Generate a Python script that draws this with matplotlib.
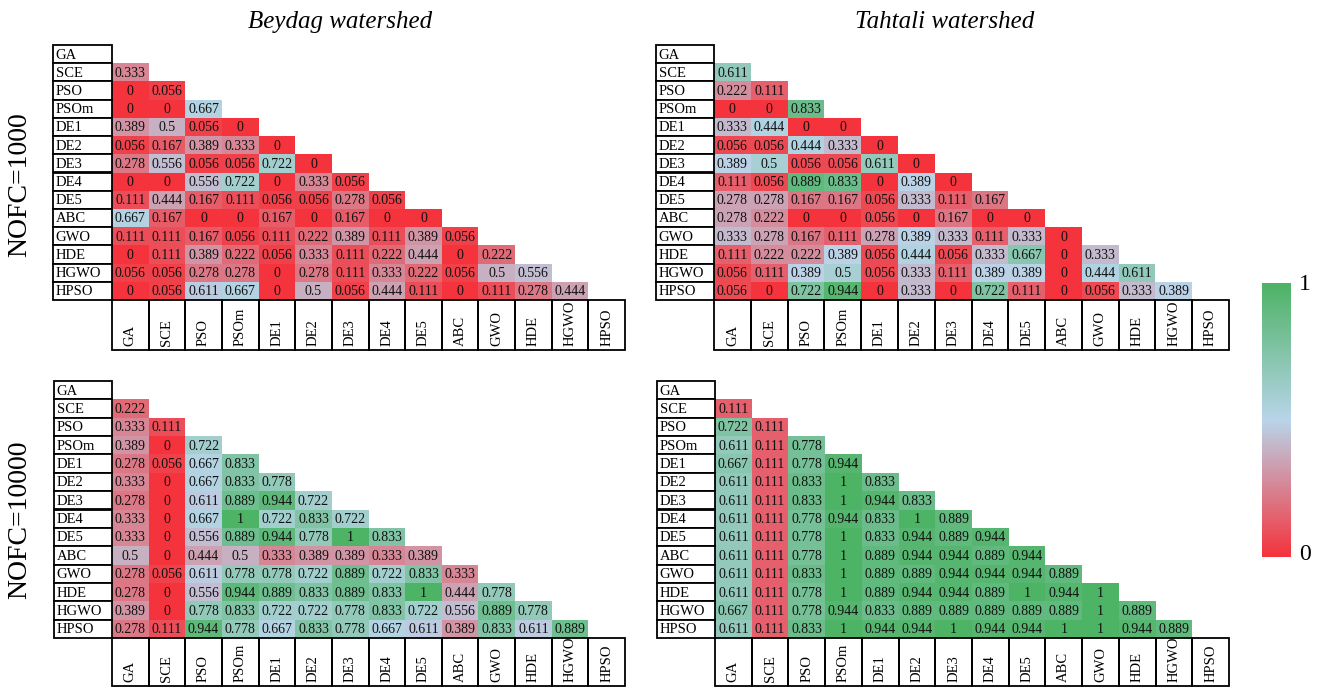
import numpy as np
import matplotlib
matplotlib.use("Agg")
import matplotlib.pyplot as plt
from matplotlib.colors import LinearSegmentedColormap, TwoSlopeNorm
from matplotlib.patches import Rectangle

plt.rcParams["font.family"] = ["Liberation Serif", "DejaVu Serif"]

algos = ["GA", "SCE", "PSO", "PSOm", "DE1", "DE2", "DE3", "DE4", "DE5",
         "ABC", "GWO", "HDE", "HGWO", "HPSO"]

# lower-triangle rows (row i holds the values for columns 0..i-1)
beydag_1000 = [
    [],
    [0.333],
    [0, 0.056],
    [0, 0, 0.667],
    [0.389, 0.5, 0.056, 0],
    [0.056, 0.167, 0.389, 0.333, 0],
    [0.278, 0.556, 0.056, 0.056, 0.722, 0],
    [0, 0, 0.556, 0.722, 0, 0.333, 0.056],
    [0.111, 0.444, 0.167, 0.111, 0.056, 0.056, 0.278, 0.056],
    [0.667, 0.167, 0, 0, 0.167, 0, 0.167, 0, 0],
    [0.111, 0.111, 0.167, 0.056, 0.111, 0.222, 0.389, 0.111, 0.389, 0.056],
    [0, 0.111, 0.389, 0.222, 0.056, 0.333, 0.111, 0.222, 0.444, 0, 0.222],
    [0.056, 0.056, 0.278, 0.278, 0, 0.278, 0.111, 0.333, 0.222, 0.056, 0.5, 0.556],
    [0, 0.056, 0.611, 0.667, 0, 0.5, 0.056, 0.444, 0.111, 0, 0.111, 0.278, 0.444],
]
tahtali_1000 = [
    [],
    [0.611],
    [0.222, 0.111],
    [0, 0, 0.833],
    [0.333, 0.444, 0, 0],
    [0.056, 0.056, 0.444, 0.333, 0],
    [0.389, 0.5, 0.056, 0.056, 0.611, 0],
    [0.111, 0.056, 0.889, 0.833, 0, 0.389, 0],
    [0.278, 0.278, 0.167, 0.167, 0.056, 0.333, 0.111, 0.167],
    [0.278, 0.222, 0, 0, 0.056, 0, 0.167, 0, 0],
    [0.333, 0.278, 0.167, 0.111, 0.278, 0.389, 0.333, 0.111, 0.333, 0],
    [0.111, 0.222, 0.222, 0.389, 0.056, 0.444, 0.056, 0.333, 0.667, 0, 0.333],
    [0.056, 0.111, 0.389, 0.5, 0.056, 0.333, 0.111, 0.389, 0.389, 0, 0.444, 0.611],
    [0.056, 0, 0.722, 0.944, 0, 0.333, 0, 0.722, 0.111, 0, 0.056, 0.333, 0.389],
]
beydag_10000 = [
    [],
    [0.222],
    [0.333, 0.111],
    [0.389, 0, 0.722],
    [0.278, 0.056, 0.667, 0.833],
    [0.333, 0, 0.667, 0.833, 0.778],
    [0.278, 0, 0.611, 0.889, 0.944, 0.722],
    [0.333, 0, 0.667, 1, 0.722, 0.833, 0.722],
    [0.333, 0, 0.556, 0.889, 0.944, 0.778, 1, 0.833],
    [0.5, 0, 0.444, 0.5, 0.333, 0.389, 0.389, 0.333, 0.389],
    [0.278, 0.056, 0.611, 0.778, 0.778, 0.722, 0.889, 0.722, 0.833, 0.333],
    [0.278, 0, 0.556, 0.944, 0.889, 0.833, 0.889, 0.833, 1, 0.444, 0.778],
    [0.389, 0, 0.778, 0.833, 0.722, 0.722, 0.778, 0.833, 0.722, 0.556, 0.889, 0.778],
    [0.278, 0.111, 0.944, 0.778, 0.667, 0.833, 0.778, 0.667, 0.611, 0.389, 0.833, 0.611, 0.889],
]
tahtali_10000 = [
    [],
    [0.111],
    [0.722, 0.111],
    [0.611, 0.111, 0.778],
    [0.667, 0.111, 0.778, 0.944],
    [0.611, 0.111, 0.833, 1, 0.833],
    [0.611, 0.111, 0.833, 1, 0.944, 0.833],
    [0.611, 0.111, 0.778, 0.944, 0.833, 1, 0.889],
    [0.611, 0.111, 0.778, 1, 0.833, 0.944, 0.889, 0.944],
    [0.611, 0.111, 0.778, 1, 0.889, 0.944, 0.944, 0.889, 0.944],
    [0.611, 0.111, 0.833, 1, 0.889, 0.889, 0.944, 0.944, 0.944, 0.889],
    [0.611, 0.111, 0.778, 1, 0.889, 0.944, 0.944, 0.889, 1, 0.944, 1],
    [0.667, 0.111, 0.778, 0.944, 0.833, 0.889, 0.889, 0.889, 0.889, 0.889, 1, 0.889],
    [0.611, 0.111, 0.833, 1, 0.944, 0.944, 1, 0.944, 0.944, 1, 1, 0.944, 0.889],
]

cmap = LinearSegmentedColormap.from_list(
    "rbg", ["#F5333C", "#B9D5EA", "#4DB365"])

W, H = 1321, 687
fig = plt.figure(figsize=(W / 100, H / 100), dpi=100)

# (data, left px, grid start px, grid end px, top px, grid bottom px, label bottom px, colour midpoint)
panels = [
    (beydag_1000, 53, 112, 625, 45, 300, 350, 0.65),
    (tahtali_1000, 656, 714, 1229, 45, 300, 350, 0.40),
    (beydag_10000, 54, 112, 625, 381, 638, 686, 0.65),
    (tahtali_10000, 657, 715, 1229, 381, 638, 686, 0.40),
]

n = len(algos)
for rows, L, G, E, T, B, LB, mid in panels:
    cw = (E - G) / n
    rh = (B - T) / n
    xl = -(G - L) / cw
    yb = n + (LB - B) / rh
    ax = fig.add_axes([L / W, 1 - LB / H, (E - L) / W, (LB - T) / H])
    ax.set_xlim(xl, n)
    ax.set_ylim(yb, 0)
    ax.axis("off")

    M = np.full((n, n), np.nan)
    for i, r in enumerate(rows):
        M[i, :len(r)] = r
    norm = TwoSlopeNorm(vmin=0, vcenter=mid, vmax=1)
    ax.pcolormesh(np.arange(n + 1), np.arange(n + 1), np.ma.masked_invalid(M),
                  cmap=cmap, norm=norm)
    for i, r in enumerate(rows):
        for j, v in enumerate(r):
            ax.text(j + 0.5, i + 0.55, f"{v:g}", ha="center", va="center",
                    fontsize=10, color="#111111")

    for i, name in enumerate(algos):
        ax.add_patch(Rectangle((xl, i), -xl, 1, facecolor="white",
                               edgecolor="black", lw=1.3, clip_on=False))
        ax.text(xl + 0.07, i + 0.55, name, ha="left", va="center", fontsize=10.5)
    for j, name in enumerate(algos):
        ax.add_patch(Rectangle((j, n), 1, yb - n, facecolor="none",
                               edgecolor="black", lw=1.3, clip_on=False))
        ax.text(j + 0.5, yb - 0.2, name, ha="center", va="bottom",
                rotation=90, fontsize=10.5)

fig.text(340 / W, 1 - 22 / H, "Beydag watershed", ha="center", va="center",
         fontsize=18, style="italic")
fig.text(945 / W, 1 - 22 / H, "Tahtali watershed", ha="center", va="center",
         fontsize=18, style="italic")
fig.text(20 / W, 1 - 185 / H, "NOFC=1000", ha="center", va="center",
         rotation=90, fontsize=20)
fig.text(20 / W, 1 - 520 / H, "NOFC=10000", ha="center", va="center",
         rotation=90, fontsize=20)

# colour bar
cax = fig.add_axes([1262 / W, 1 - 557 / H, 29 / W, 274 / H])
cax.imshow(np.linspace(1, 0, 256).reshape(-1, 1), aspect="auto", cmap=cmap,
           extent=[0, 1, 0, 1])
cax.axis("off")
fig.text(1305 / W, 1 - 285 / H, "1", ha="center", va="center", fontsize=17)
fig.text(1305 / W, 1 - 554 / H, "0", ha="center", va="center", fontsize=17)

fig.savefig("out.png", dpi=100)
